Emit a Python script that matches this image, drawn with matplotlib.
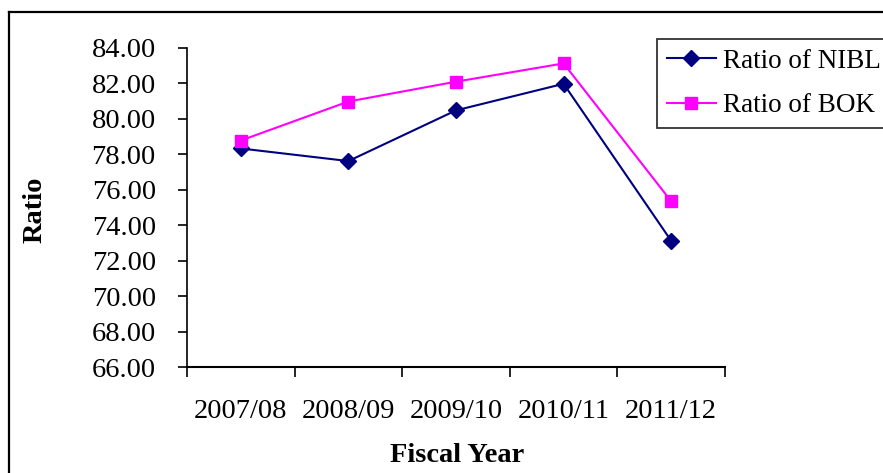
import matplotlib
matplotlib.use("Agg")
import matplotlib.pyplot as plt
from matplotlib.lines import Line2D

years = ["2007/08", "2008/09", "2009/10", "2010/11", "2011/12"]
nibl = [78.33, 77.62, 80.48, 81.98, 73.12]
bok = [78.78, 80.98, 82.10, 83.13, 75.35]
yticks = [66, 68, 70, 72, 74, 76, 78, 80, 82, 84]

plt.rcParams['font.family'] = ['Liberation Serif', 'DejaVu Serif']

W, H = 883, 473
FS = 20.5
fig = plt.figure(figsize=(W / 100, H / 100), dpi=100)
ax = fig.add_axes([187 / W, 1 - 367 / H, (725 - 187) / W, (367 - 48) / H])

x = list(range(len(years)))
ax.plot(x, nibl, color='#000080', marker='D', markersize=8, linewidth=1.5, label='Ratio of NIBL')
ax.plot(x, bok, color='#FF00FF', marker='s', markersize=8, linewidth=1.5, label='Ratio of BOK')

ax.set_xlim(-0.5, len(years) - 0.5)
ax.set_ylim(66, 84)
ax.set_yticks(yticks)
ax.set_yticklabels([f"{v:.2f}" for v in yticks])
ax.set_xticks(x)
ax.set_xticklabels(years)
ax.set_xticks([i - 0.5 for i in range(len(years) + 1)], minor=True)
ax.tick_params(axis='x', which='major', length=0, pad=23, labelsize=FS)
ax.tick_params(axis='x', which='minor', length=7, width=1.2, direction='out')
ax.tick_params(axis='y', length=6.5, width=1.2, direction='out', labelsize=FS, pad=16)

for s in ['top', 'right']:
    ax.spines[s].set_visible(False)
ax.spines['left'].set_linewidth(1.2)
ax.spines['bottom'].set_linewidth(1.5)

fig.text(35 / W, 1 - 210 / H, 'Ratio', rotation=90, ha='center', va='center',
         fontsize=FS, fontweight='bold')
fig.text(457 / W, 1 - 455 / H, 'Fiscal Year', ha='center', va='center',
         fontsize=FS, fontweight='bold')

# outer frame
fig.add_artist(Line2D([9 / W, 9 / W], [1 - 12 / H, 0], transform=fig.transFigure,
                      color='black', linewidth=1.6))
fig.add_artist(Line2D([9 / W, 1], [1 - 12 / H, 1 - 12 / H], transform=fig.transFigure,
                      color='black', linewidth=1.6))

leg = fig.legend(loc='upper left', bbox_to_anchor=(657 / W, 1 - 39 / H),
                 fontsize=19.5, frameon=True, fancybox=False, handlelength=1.8,
                 handletextpad=0.26, labelspacing=0.72, borderpad=0.36,
                 borderaxespad=0, edgecolor='black')
leg.get_frame().set_linewidth(1.3)

fig.savefig('out.png', dpi=100)
